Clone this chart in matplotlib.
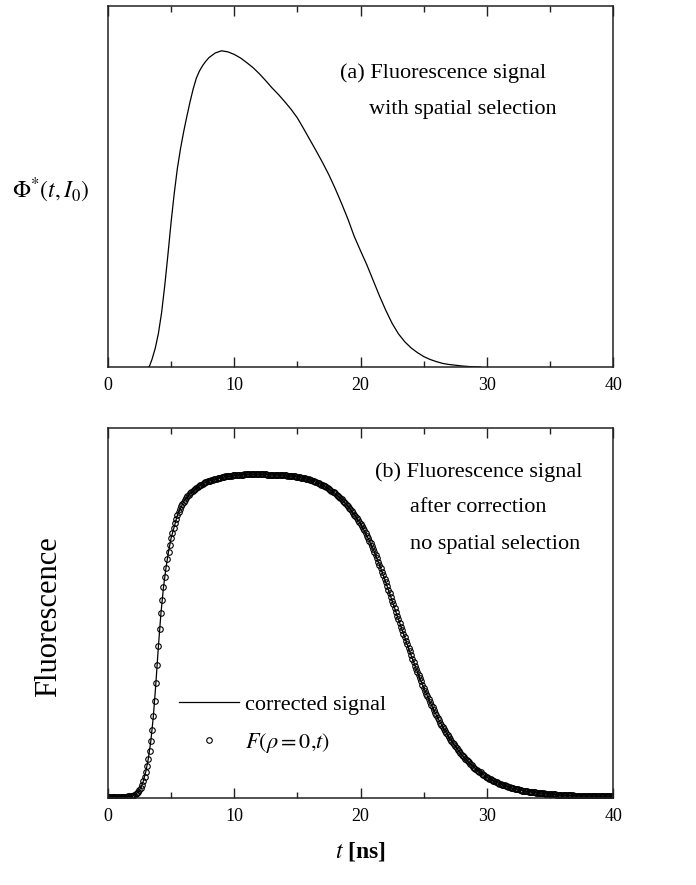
import numpy as np
import matplotlib
matplotlib.use("Agg")
import matplotlib.pyplot as plt

plt.rcParams['font.family'] = ['Liberation Serif', 'DejaVu Serif']
plt.rcParams['mathtext.fontset'] = 'stix'

# (a) spatially selected fluorescence signal, arbitrary units
t_sel = [3.2, 3.27, 3.5, 3.75, 4.0, 4.25, 4.5, 4.75, 5.0, 5.25, 5.5, 5.75, 6.0,
         6.25, 6.5, 6.75, 7.0, 7.25, 7.5, 7.75, 8.0, 8.5, 9.0, 9.5, 10.0, 10.5,
         11.0, 11.5, 12.0, 12.5, 13.0, 13.5, 14.0, 14.5, 15.0, 15.5, 16.0, 16.5,
         17.0, 17.5, 18.0, 18.5, 19.0, 19.5, 20.0, 20.5, 21.0, 21.5, 22.0, 22.5,
         23.0, 23.5, 24.0, 24.5, 25.0, 25.5, 26.0, 26.5, 27.0, 27.5, 28.0, 28.5,
         29.0, 29.5]
phi_sel = [0.0, 0.0, 0.022, 0.052, 0.093, 0.150, 0.225, 0.310, 0.400, 0.480,
           0.550, 0.605, 0.652, 0.694, 0.734, 0.770, 0.800, 0.820, 0.835, 0.847,
           0.857, 0.870, 0.876, 0.873, 0.866, 0.856, 0.843, 0.829, 0.812, 0.793,
           0.773, 0.755, 0.735, 0.714, 0.690, 0.660, 0.629, 0.598, 0.566, 0.532,
           0.494, 0.453, 0.410, 0.362, 0.322, 0.283, 0.240, 0.197, 0.157, 0.121,
           0.092, 0.070, 0.053, 0.040, 0.029, 0.021, 0.015, 0.010, 0.007, 0.005,
           0.003, 0.0015, 0.0005, 0.0]

# (b) corrected signal (solid line)
t_corr = [0, 0.5, 1.0, 1.5, 2.0, 2.2, 2.4, 2.6, 2.8, 3.0, 3.2, 3.4, 3.6, 3.8,
          4.0, 4.2, 4.4, 4.6, 4.8, 5.0, 5.5, 6.0, 6.5, 7.0, 7.5, 8.0, 9, 10,
          11, 12, 13, 14, 15, 16, 16.5, 17, 17.5, 18, 18.5, 19, 19.5, 20, 20.5,
          21, 21.5, 22, 22.5, 23, 23.5, 24, 24.5, 25, 25.5, 26, 26.5, 27, 27.5,
          28, 28.5, 29, 29.5, 30, 31, 32, 33, 34, 35, 36, 37, 38, 39, 40]
f_corr = [0.004, 0.004, 0.004, 0.004, 0.006, 0.010, 0.017, 0.027, 0.045, 0.071,
          0.106, 0.154, 0.221, 0.310, 0.410, 0.499, 0.569, 0.622, 0.666, 0.702,
          0.764, 0.801, 0.823, 0.838, 0.849, 0.857, 0.867, 0.872, 0.875, 0.875,
          0.874, 0.872, 0.868, 0.860, 0.853, 0.846, 0.835, 0.823, 0.807, 0.789,
          0.766, 0.741, 0.709, 0.673, 0.630, 0.583, 0.533, 0.483, 0.434, 0.386,
          0.341, 0.298, 0.260, 0.224, 0.192, 0.164, 0.140, 0.117, 0.099, 0.082,
          0.069, 0.056, 0.039, 0.027, 0.019, 0.014, 0.0105, 0.008, 0.0065,
          0.0055, 0.005, 0.0047]

# (b) F(rho=0, t) sampled every 0.1 ns from 0 to 40 ns
t_F = np.linspace(0, 40, 401)
F_rho0 = [
    0.004, 0.004, 0.004, 0.004, 0.004, 0.004, 0.004, 0.004, 0.004, 0.004,
    0.004, 0.004, 0.004, 0.004, 0.004, 0.004, 0.005, 0.005, 0.005, 0.005,
    0.006, 0.008, 0.010, 0.013, 0.017, 0.021, 0.027, 0.035, 0.045, 0.057,
    0.071, 0.087, 0.106, 0.128, 0.154, 0.185, 0.221, 0.263, 0.310, 0.360,
    0.410, 0.457, 0.499, 0.536, 0.569, 0.597, 0.622, 0.645, 0.666, 0.685,
    0.702, 0.717, 0.731, 0.743, 0.754, 0.764, 0.773, 0.781, 0.788, 0.795,
    0.801, 0.806, 0.811, 0.815, 0.819, 0.823, 0.826, 0.829, 0.832, 0.835,
    0.838, 0.841, 0.843, 0.845, 0.847, 0.849, 0.851, 0.853, 0.854, 0.856,
    0.857, 0.858, 0.859, 0.860, 0.861, 0.862, 0.863, 0.864, 0.865, 0.866,
    0.867, 0.867, 0.868, 0.869, 0.869, 0.870, 0.870, 0.871, 0.871, 0.872,
    0.872, 0.873, 0.873, 0.873, 0.874, 0.874, 0.874, 0.874, 0.875, 0.875,
    0.875, 0.875, 0.875, 0.875, 0.875, 0.875, 0.875, 0.875, 0.875, 0.875,
    0.875, 0.875, 0.875, 0.875, 0.875, 0.875, 0.874, 0.874, 0.874, 0.874,
    0.874, 0.874, 0.874, 0.873, 0.873, 0.873, 0.873, 0.872, 0.872, 0.872,
    0.872, 0.872, 0.871, 0.871, 0.871, 0.870, 0.870, 0.869, 0.869, 0.868,
    0.868, 0.867, 0.867, 0.866, 0.865, 0.864, 0.864, 0.863, 0.862, 0.861,
    0.860, 0.859, 0.858, 0.856, 0.855, 0.853, 0.852, 0.850, 0.848, 0.847,
    0.846, 0.844, 0.842, 0.840, 0.838, 0.835, 0.833, 0.831, 0.828, 0.826,
    0.823, 0.820, 0.817, 0.814, 0.810, 0.807, 0.803, 0.800, 0.796, 0.792,
    0.789, 0.785, 0.780, 0.776, 0.771, 0.766, 0.761, 0.756, 0.751, 0.746,
    0.741, 0.735, 0.729, 0.723, 0.716, 0.709, 0.702, 0.695, 0.688, 0.681,
    0.673, 0.665, 0.657, 0.648, 0.639, 0.630, 0.621, 0.611, 0.602, 0.592,
    0.583, 0.573, 0.563, 0.553, 0.543, 0.533, 0.523, 0.513, 0.503, 0.493,
    0.483, 0.473, 0.463, 0.453, 0.444, 0.434, 0.424, 0.415, 0.405, 0.396,
    0.386, 0.377, 0.367, 0.358, 0.349, 0.341, 0.332, 0.323, 0.315, 0.306,
    0.298, 0.290, 0.282, 0.275, 0.267, 0.260, 0.252, 0.245, 0.238, 0.231,
    0.224, 0.217, 0.211, 0.204, 0.198, 0.192, 0.186, 0.180, 0.175, 0.169,
    0.164, 0.159, 0.154, 0.149, 0.145, 0.140, 0.135, 0.131, 0.126, 0.122,
    0.117, 0.113, 0.110, 0.106, 0.103, 0.099, 0.096, 0.092, 0.089, 0.085,
    0.082, 0.079, 0.076, 0.074, 0.071, 0.069, 0.066, 0.063, 0.061, 0.058,
    0.056, 0.054, 0.052, 0.051, 0.049, 0.047, 0.046, 0.044, 0.042, 0.041,
    0.039, 0.038, 0.036, 0.035, 0.034, 0.033, 0.032, 0.030, 0.029, 0.028,
    0.027, 0.026, 0.025, 0.024, 0.024, 0.023, 0.022, 0.021, 0.020, 0.020,
    0.019, 0.018, 0.018, 0.017, 0.017, 0.016, 0.016, 0.015, 0.015, 0.014,
    0.014, 0.0136, 0.0133, 0.0129, 0.0126, 0.0122, 0.0119, 0.0115, 0.0112, 0.0108,
    0.0105, 0.0102, 0.0100, 0.0097, 0.0095, 0.0092, 0.0090, 0.0087, 0.0085, 0.0082,
    0.0080, 0.0078, 0.0077, 0.0075, 0.0074, 0.0072, 0.0071, 0.0069, 0.0068, 0.0066,
    0.0065, 0.0064, 0.0063, 0.0062, 0.0061, 0.0060, 0.0059, 0.0058, 0.0057, 0.0056,
    0.0055, 0.0055, 0.0054, 0.0054, 0.0053, 0.0053, 0.0052, 0.0052, 0.0051, 0.0051,
    0.0050, 0.0050, 0.0050, 0.0049, 0.0049, 0.0049, 0.0048, 0.0048, 0.0048, 0.0047,
    0.0047,
]

x_ticks = [0, 10, 20, 30, 40]
x_minor = [5, 15, 25, 35]

fig = plt.figure(figsize=(6.96, 8.85), dpi=100)
ax1 = fig.add_axes([0.155, 0.5853, 0.726, 0.4079])
ax2 = fig.add_axes([0.155, 0.0983, 0.726, 0.4181])


def style_axes(ax):
    ax.set_xlim(0, 40)
    ax.set_ylim(0, 1.0)
    ax.set_xticks(x_ticks)
    ax.set_xticks(x_minor, minor=True)
    ax.set_yticks([])
    ax.tick_params(axis='x', which='both', direction='in', top=True,
                   labelsize=13, pad=7, color='#222222')
    ax.tick_params(axis='x', which='major', length=7, width=1.0)
    ax.tick_params(axis='x', which='minor', length=4, width=1.0)
    for s in ax.spines.values():
        s.set_linewidth(1.1)
        s.set_color('#222222')


# --- (a) ---
style_axes(ax1)
ax1.plot(t_sel, phi_sel, color='black', linewidth=0.9)
ax1.text(0.46, 0.814, '(a) Fluorescence signal', transform=ax1.transAxes,
         fontsize=16, ha='left', va='center')
ax1.text(0.517, 0.712, 'with spatial selection', transform=ax1.transAxes,
         fontsize=16, ha='left', va='center')
ax1.set_ylabel(r'$\mathit{\Phi}^{*}(t,I_0)$', fontsize=17, rotation=0,
               va='center', ha='center')
ax1.yaxis.set_label_coords(-0.114, 0.49)

# --- (b) ---
style_axes(ax2)
ax2.plot(t_corr, f_corr, color='black', linewidth=0.9, label='corrected signal')
ax2.plot(t_F, F_rho0, linestyle='none', marker='o', markersize=4.0,
         markerfacecolor='none', markeredgecolor='black', markeredgewidth=0.8,
         label=r'$F(\rho = 0{,}t)$')
ax2.text(0.528, 0.881, '(b) Fluorescence signal', transform=ax2.transAxes,
         fontsize=16, ha='left', va='center')
ax2.text(0.597, 0.784, 'after correction', transform=ax2.transAxes,
         fontsize=16, ha='left', va='center')
ax2.text(0.597, 0.684, 'no spatial selection', transform=ax2.transAxes,
         fontsize=16, ha='left', va='center')
ax2.legend(loc='lower left', bbox_to_anchor=(0.11, 0.075), frameon=False,
           fontsize=16, handlelength=2.7, handletextpad=0.27,
           labelspacing=0.7, borderpad=0.2)
ax2.set_ylabel('Fluorescence', fontsize=22)
ax2.yaxis.set_label_coords(-0.088, 0.49)
ax2.set_xlabel(r'$t$ [ns]', fontsize=17, fontweight='bold', labelpad=11)

fig.savefig('out.png', dpi=100)
